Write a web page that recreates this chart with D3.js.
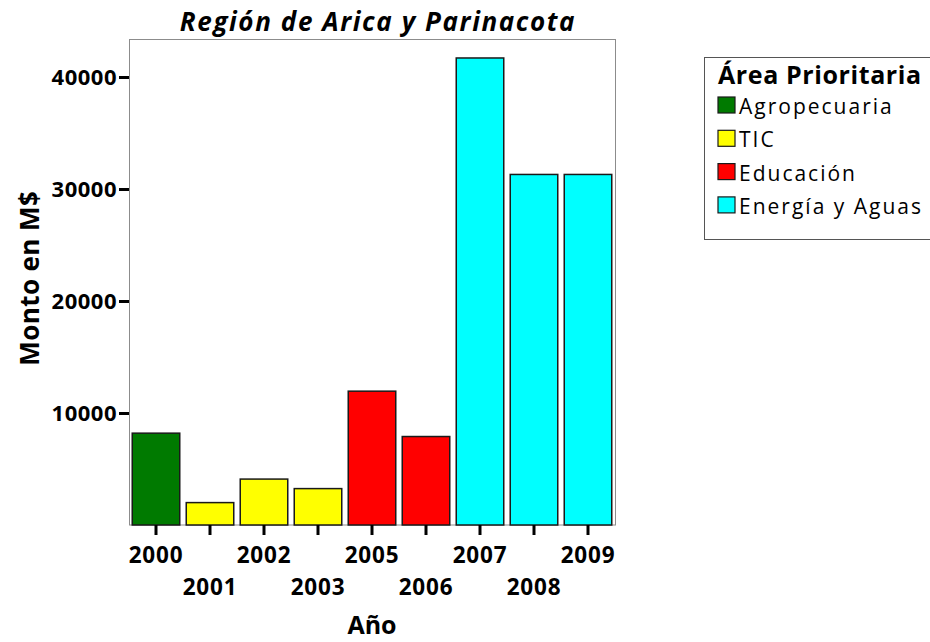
<!DOCTYPE html>
<html>
<head>
<meta charset="utf-8">
<script src="https://cdn.jsdelivr.net/npm/d3@7"></script>
<style>
  body { margin: 0; background: #fff; }
  svg { display: block; font-family: "Open Sans", "DejaVu Sans", sans-serif; }
</style>
</head>
<body>
<svg id="chart" width="930" height="642"></svg>
<script>
// data
var years = ['2000', '2001', '2002', '2003', '2005', '2006', '2007', '2008', '2009']
var montos = [8200, 2000, 4100, 3250, 11950, 7900, 41700, 31300, 31300]
var areaDeAnio = ['Agropecuaria', 'TIC', 'TIC', 'TIC', 'Educación', 'Educación',
  'Energía y Aguas', 'Energía y Aguas', 'Energía y Aguas']
var areas = ['Agropecuaria', 'TIC', 'Educación', 'Energía y Aguas']
var areaColors = ['#007a00', '#ffff00', '#ff0000', '#00ffff']
var yTicks = [10000, 20000, 30000, 40000]

var svg = d3.select('#chart')
var plotLeft = 129, plotRight = 615, plotTop = 39.5, plotBottom = 525

var x = d3.scaleBand()
  .domain(years)
  .range([plotLeft, plotRight])
  .paddingInner(0.12)
  .paddingOuter(0.06)

var y = d3.scaleLinear()
  .domain([0, 43350])
  .range([plotBottom, plotTop])

var color = d3.scaleOrdinal().domain(areas).range(areaColors)

// plot frame
svg.append('rect')
  .attr('x', plotLeft + 0.5).attr('y', plotTop)
  .attr('width', plotRight - plotLeft).attr('height', plotBottom - plotTop)
  .attr('fill', 'none').attr('stroke', '#8c8c8c').attr('stroke-width', 1)

// bars
svg.append('g')
  .selectAll('rect')
  .data(years)
  .join('rect')
  .attr('x', function (d) { return x(d) })
  .attr('y', function (d, i) { return y(montos[i]) })
  .attr('width', x.bandwidth())
  .attr('height', function (d, i) { return y(0) - y(montos[i]) })
  .attr('fill', function (d, i) { return color(areaDeAnio[i]) })
  .attr('stroke', '#1a1a1a')
  .attr('stroke-width', 1.5)

// y axis
var yAxis = svg.append('g')
  .attr('transform', 'translate(' + plotLeft + ',0)')
  .call(d3.axisLeft(y).tickValues(yTicks).tickSize(10).tickPadding(2).tickFormat(d3.format('d')))
yAxis.select('.domain').remove()
yAxis.selectAll('.tick line').attr('stroke', '#000').attr('stroke-width', 3)
yAxis.selectAll('.tick text')
  .attr('font-size', 22).attr('font-weight', 'bold').attr('fill', '#000')
  .attr('font-family', '"Open Sans", sans-serif')
  .attr('letter-spacing', '0.5px')

// x axis
var xAxis = svg.append('g')
  .attr('transform', 'translate(0,' + plotBottom + ')')
  .call(d3.axisBottom(x).tickSize(10).tickPadding(0))
xAxis.select('.domain').remove()
xAxis.selectAll('.tick line').attr('stroke', '#000').attr('stroke-width', 3)
xAxis.selectAll('.tick text')
  .attr('font-size', 22.5).attr('font-weight', 'bold').attr('fill', '#000')
  .attr('font-family', '"Open Sans", sans-serif')
  .attr('letter-spacing', '0.8px')
  .attr('dy', null)
  .attr('y', function (d, i) { return i % 2 === 0 ? 38 : 70 })

// title and axis labels
svg.append('text')
  .attr('x', 378).attr('y', 31)
  .attr('text-anchor', 'middle')
  .attr('font-size', 26).attr('font-weight', 'bold').attr('font-style', 'italic')
  .attr('letter-spacing', '1.6px')
  .text('Región de Arica y Parinacota')

svg.append('text')
  .attr('x', 372).attr('y', 634)
  .attr('text-anchor', 'middle')
  .attr('font-size', 25).attr('font-weight', 'bold')
  .text('Año')

svg.append('text')
  .attr('transform', 'translate(39,' + ((plotTop + plotBottom) / 2 - 4) + ') rotate(-90)')
  .attr('text-anchor', 'middle')
  .attr('font-size', 26).attr('font-weight', 'bold')
  .attr('letter-spacing', '0.4px')
  .text('Monto en M$')

// legend
var legend = svg.append('g').attr('transform', 'translate(704,57)')
legend.append('rect')
  .attr('x', 0.5).attr('y', 0.5).attr('width', 240).attr('height', 182)
  .attr('fill', '#fff').attr('stroke', '#555').attr('stroke-width', 1)
legend.append('text')
  .attr('x', 14).attr('y', 27)
  .attr('font-size', 25).attr('font-weight', 'bold')
  .attr('letter-spacing', '0.6px')
  .text('Área Prioritaria')
var item = legend.selectAll('.item')
  .data(areas)
  .join('g')
  .attr('class', 'item')
  .attr('transform', function (d, i) { return 'translate(14,' + (40 + i * 33.3) + ')' })
item.append('rect')
  .attr('width', 17).attr('height', 16)
  .attr('fill', function (d) { return color(d) })
  .attr('stroke', '#1a1a1a').attr('stroke-width', 1.2)
item.append('text')
  .attr('x', 21).attr('y', 17)
  .attr('font-size', 21)
  .attr('letter-spacing', '2px')
  .text(function (d) { return d })
</script>
</body>
</html>
